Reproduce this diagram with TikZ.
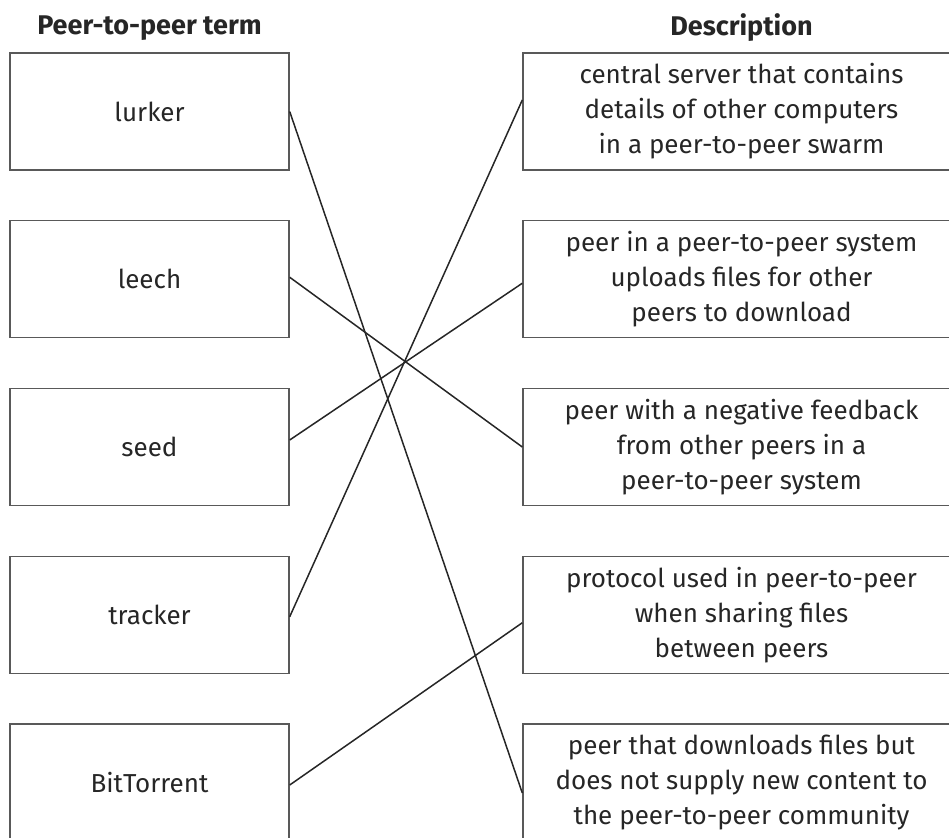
\documentclass[tikz,border=0pt]{standalone}
\usepackage{fontspec}
\setmainfont{Fira Sans}
\begin{document}
\begin{tikzpicture}[x=1pt,y=-1pt,
  box/.style={draw=black!65, line width=1.4pt, rectangle, inner sep=0pt, align=center,
    font=\fontsize{26}{35}\selectfont, text=black!85, minimum height=117pt},
  lbox/.style={box, minimum width=279pt},
  rbox/.style={box, minimum width=437pt},
  head/.style={font=\fontsize{27}{30}\selectfont\bfseries, text=black!85},
  conn/.style={draw=black!85, line width=1.5pt}]
\useasboundingbox (0,0) rectangle (949,837);
\clip (0,0) rectangle (949,837);
\node[head] (h1) at (149.5,28) {Peer-to-peer term};
\node[head] (h2) at (741.5,28) {Description};
\node[lbox] (l1) at (149.5,111.5) {lurker};
\node[lbox] (l2) at (149.5,279.25) {leech};
\node[lbox] (l3) at (149.5,447) {seed};
\node[lbox] (l4) at (149.5,614.75) {tracker};
\node[lbox] (l5) at (149.5,782.5) {BitTorrent};
\node[rbox] (r1) at (741.5,111.5) {central server that contains\\details of other computers\\in a peer-to-peer swarm};
\node[rbox] (r2) at (741.5,279.25) {peer in a peer-to-peer system\\uploads files for other\\peers to download};
\node[rbox] (r3) at (741.5,447) {peer with a negative feedback\\from other peers in a\\peer-to-peer system};
\node[rbox] (r4) at (741.5,614.75) {protocol used in peer-to-peer\\when sharing files\\between peers};
\node[rbox] (r5) at (741.5,782.5) {peer that downloads files but\\does not supply new content to\\the peer-to-peer community};
\draw[conn] (l1.east) -- ([yshift=-10.5pt]r5.west);
\draw[conn] ([yshift=2pt]l2.east) -- (r3.west);
\draw[conn] ([yshift=7pt]l3.east) -- ([yshift=-4pt]r2.west);
\draw[conn] ([yshift=-2pt]l4.east) -- ([yshift=11.5pt]r1.west);
\draw[conn] ([yshift=-2.5pt]l5.east) -- ([yshift=-8pt]r4.west);
\end{tikzpicture}
\end{document}
